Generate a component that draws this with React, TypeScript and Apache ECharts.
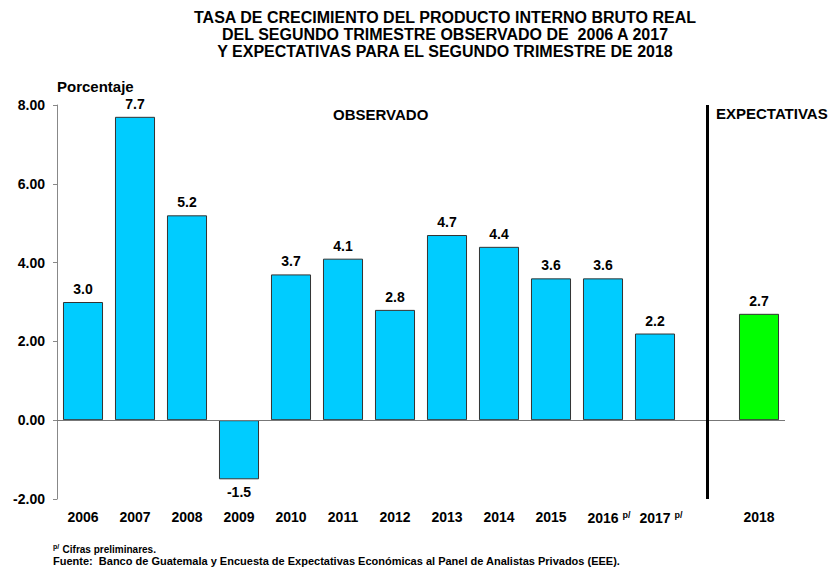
import React, { useEffect, useRef } from "react";
import * as echarts from "echarts";

const categories = ["2006", "2007", "2008", "2009", "2010", "2011", "2012", "2013", "2014", "2015", "2016", "2017", " ", "2018"];
const preliminary = ["2016", "2017"];
const observed = [3.0, 7.7, 5.2, -1.5, 3.7, 4.1, 2.8, 4.7, 4.4, 3.6, 3.6, 2.2, null, null];
const expected = [null, null, null, null, null, null, null, null, null, null, null, null, null, 2.7];
const yTicks = { min: -2, max: 8, interval: 2 };
const separatorIndex = 12;
const titleLines = [
  "TASA DE CRECIMIENTO DEL PRODUCTO INTERNO BRUTO REAL",
  "DEL SEGUNDO TRIMESTRE OBSERVADO DE  2006 A 2017",
  "Y EXPECTATIVAS PARA EL SEGUNDO TRIMESTRE DE 2018",
];

const FONT = "'Liberation Sans', Arial, sans-serif";

function toItems(arr: (number | null)[]) {
  return arr.map((v) =>
    v === null
      ? null
      : {
          value: v,
          label: { position: v < 0 ? "bottom" : "top" },
        }
  );
}

export default function App() {
  const ref = useRef<HTMLDivElement>(null);
  useEffect(() => {
    document.body.style.margin = "0";
    if (!ref.current) return;
    const chart = echarts.init(ref.current, null, { renderer: "svg" });
    const labelCommon = {
      show: true,
      fontFamily: FONT,
      fontWeight: "bold",
      fontSize: 14,
      color: "#000",
      distance: 6,
      formatter: (p: any) => Number(p.value).toFixed(1),
    };
    chart.setOption({
      animation: false,
      backgroundColor: "#fff",
      grid: { left: 57, right: 46, top: 105, bottom: 70 },
      xAxis: {
        type: "category",
        data: categories,
        axisLine: { show: false, onZero: false },
        axisTick: { show: false },
        axisLabel: {
          margin: 11,
          fontFamily: FONT,
          fontWeight: "bold",
          fontSize: 14,
          color: "#000",
          interval: 0,
          formatter: (v: string) =>
            preliminary.includes(v) ? `{s|}{y|${v}}{p|p/}` : `{y|${v}}`,
          rich: {
            s: { width: 12 },
            y: { fontFamily: FONT, fontWeight: "bold", fontSize: 14, color: "#000" },
            p: { fontFamily: FONT, fontWeight: "bold", fontSize: 9, color: "#000", verticalAlign: "top", padding: [0, 0, 6, 4] },
          },
        },
      },
      yAxis: {
        type: "value",
        min: yTicks.min,
        max: yTicks.max,
        interval: yTicks.interval,
        splitLine: { show: false },
        axisLine: { show: true, lineStyle: { color: "#888", width: 1 } },
        axisTick: { show: true, length: 4, lineStyle: { color: "#888" } },
        axisLabel: {
          margin: 12,
          fontFamily: FONT,
          fontWeight: "bold",
          fontSize: 14,
          color: "#000",
          formatter: (v: number) => v.toFixed(2),
        },
      },
      series: [
        {
          type: "bar",
          stack: "a",
          data: toItems(observed),
          barWidth: "77%",
          itemStyle: { color: "#00CCFF", borderColor: "#333", borderWidth: 1 },
          label: labelCommon,
          markLine: {
            silent: true,
            symbol: "none",
            label: { show: false },
            data: [
              { yAxis: 0, lineStyle: { color: "#777", width: 1, type: "solid" } },
              { xAxis: separatorIndex, lineStyle: { color: "#000", width: 3, type: "solid" } },
            ],
          },
        },
        {
          type: "bar",
          stack: "a",
          data: toItems(expected),
          barWidth: "77%",
          itemStyle: { color: "#00FF00", borderColor: "#333", borderWidth: 1 },
          label: labelCommon,
        },
      ],
      graphic: [
        ...titleLines.map((t, i) => ({
          type: "text",
          x: 445,
          y: 17 + i * 17,
          style: {
            text: t,
            font: `bold 16px ${FONT}`,
            fill: "#000",
            align: "center",
            verticalAlign: "middle",
          },
        })),
        { type: "text", left: 57, top: 79, style: { text: "Porcentaje", font: `bold 15px ${FONT}`, fill: "#000" } },
        { type: "text", left: 333, top: 107, style: { text: "OBSERVADO", font: `bold 15px ${FONT}`, fill: "#000" } },
        { type: "text", left: 716, top: 106, style: { text: "EXPECTATIVAS", font: `bold 15px ${FONT}`, fill: "#000" } },
        {
          type: "text",
          left: 53,
          top: 543,
          style: {
            text: "{p|p/} {t|Cifras preliminares.}",
            rich: {
              p: { font: `bold 7px ${FONT}`, fill: "#000", verticalAlign: "top" },
              t: { font: `bold 10px ${FONT}`, fill: "#000" },
            },
          },
        },
        {
          type: "text",
          left: 53,
          top: 555,
          style: {
            text: "Fuente:  Banco de Guatemala y Encuesta de Expectativas Económicas al Panel de Analistas Privados (EEE).",
            font: `bold 11px ${FONT}`,
            fill: "#000",
          },
        },
      ],
    });
    return () => chart.dispose();
  }, []);
  return <div ref={ref} style={{ width: 831, height: 569 }} />;
}
